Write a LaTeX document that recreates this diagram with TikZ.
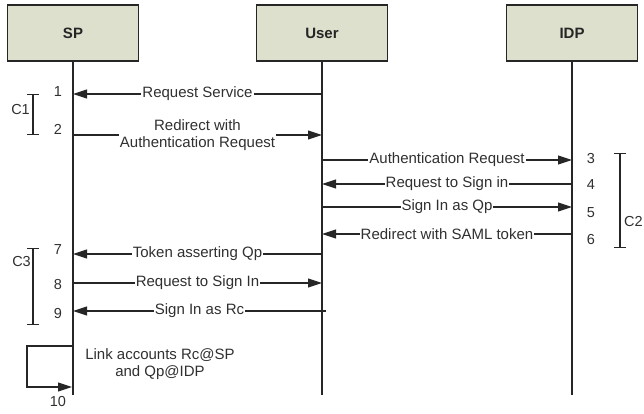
\documentclass[tikz,border=0pt]{standalone}
\usepackage{xcolor}
\usepackage{fontspec}
\setmainfont{Liberation Sans}
\usetikzlibrary{arrows.meta, positioning, calc}

\definecolor{boxfill}{RGB}{221,224,204}
\definecolor{inkgray}{RGB}{38,38,38}
\definecolor{txtgray}{RGB}{48,48,48}

\begin{document}
\begin{tikzpicture}[x=1pt, y=-1pt,
	actor/.style={draw=inkgray, line width=1.3pt, fill=boxfill, minimum width=131pt, minimum height=56pt,
		font=\fontsize{15}{18}\selectfont\bfseries, text=black!85},
	lifeline/.style={draw=inkgray, line width=1.2pt},
	msg/.style={draw=inkgray, line width=1.1pt, -{Triangle[length=14pt,width=9pt]}},
	lbl/.style={fill=white, inner xsep=1pt, inner ysep=0pt, text=txtgray,
		font=\fontsize{15}{17}\selectfont, align=center},
	num/.style={text=txtgray, font=\fontsize{14.5}{17}\selectfont, inner sep=0pt},
	brace/.style={draw=inkgray, line width=1.1pt, {Bar[width=12pt]}-{Bar[width=12pt]}}
	]
	
	\useasboundingbox (0,0) rectangle (644,413);
	
	% ----- Parameters -----
	\def\xsp{73}   % SP lifeline
	\def\xuser{322} % User lifeline
	\def\xidp{572}  % IDP lifeline
	\def\ybot{395}  % where lifelines stop
	
	% ----- Actors -----
	\node[actor] (sp)   at (\xsp,33)   {SP};
	\node[actor] (user) at (\xuser,33) {User};
	\node[actor] (idp)  at (\xidp,33)  {IDP};
	
	\coordinate (spend)   at (\xsp,\ybot);
	\coordinate (userend) at (\xuser,\ybot);
	\coordinate (idpend)  at (\xidp,\ybot);
	
	\draw[lifeline] (sp.south)   -- (spend);
	\draw[lifeline] (user.south) -- (userend);
	\draw[lifeline] (idp.south)  -- (idpend);
	
	% ----- Message end points -----
	\coordinate (sp1) at (\xsp,94);    \coordinate (user1) at (\xuser,94);
	\coordinate (sp2) at (\xsp,135);   \coordinate (user2) at (\xuser,135);
	\coordinate (user3) at (\xuser,160); \coordinate (idp3) at (\xidp,160);
	\coordinate (user4) at (\xuser,184); \coordinate (idp4) at (\xidp,184);
	\coordinate (user5) at (\xuser,207); \coordinate (idp5) at (\xidp,207);
	\coordinate (user6) at (\xuser,234); \coordinate (idp6) at (\xidp,234);
	\coordinate (sp7) at (\xsp,254);   \coordinate (user7) at (\xuser,254);
	\coordinate (sp8) at (\xsp,283);   \coordinate (user8) at (\xuser,283);
	\coordinate (sp9) at (\xsp,311);   \coordinate (user9) at (326,311);
	
	% ----- Messages SP <-> User -----
	\draw[msg] (user1) -- node[lbl] {Request Service} (sp1);
	\draw[msg] (sp2) -- node[lbl] {Redirect with\\Authentication Request} (user2);
	
	% ----- Messages User <-> IDP -----
	\draw[msg] (user3) -- node[lbl] {Authentication Request} (idp3);
	\draw[msg] (idp4) -- node[lbl] {Request to Sign in} (user4);
	\draw[msg] (user5) -- node[lbl] {Sign In as Qp} (idp5);
	\draw[msg] (idp6) -- node[lbl] {Redirect with SAML token} (user6);
	
	% ----- Back at the SP -----
	\draw[msg] (user7) -- node[lbl] {Token asserting Qp} (sp7);
	\draw[msg] (sp8) -- node[lbl] {Request to Sign In} (user8);
	\draw[msg] (user9) -- node[lbl] {Sign In as Rc} (sp9);
	
	% Self call on the SP
	\coordinate (loopa) at (72,346);
	\coordinate (loopb) at (27,346);
	\coordinate (loopc) at (72,387);
	\draw[msg] (loopa) -- (loopb) |- (loopc);
	\node[lbl, fill=none] (link) at (160,364) {Link accounts Rc@SP\\and Qp@IDP};
	
	% ----- Step numbers -----
	\node[num] (n1)  at (58,92)  {1};
	\node[num] (n2)  at (58,129) {2};
	\node[num] (n3)  at (591,159) {3};
	\node[num] (n4)  at (591,185) {4};
	\node[num] (n5)  at (591,213) {5};
	\node[num] (n6)  at (591,240) {6};
	\node[num] (n7)  at (58,250) {7};
	\node[num] (n8)  at (58,284) {8};
	\node[num] (n9)  at (58,313) {9};
	\node[num] (n10) at (58,401) {10};
	
	% ----- Phase brackets -----
	\coordinate (c1top) at (33,94);   \coordinate (c1bot) at (33,135);
	\coordinate (c2top) at (620,153); \coordinate (c2bot) at (620,248);
	\coordinate (c3top) at (33,248);  \coordinate (c3bot) at (33,325);
	
	\draw[brace] (c1top) -- (c1bot);
	\draw[brace] (c2top) -- (c2bot);
	\draw[brace] (c3top) -- (c3bot);
	
	\node[num, anchor=east] (c1) at (30,110) {C1};
	\node[num, anchor=west] (c2) at (624,222) {C2};
	\node[num, anchor=east] (c3) at (31,262) {C3};
	
\end{tikzpicture}
\end{document}
